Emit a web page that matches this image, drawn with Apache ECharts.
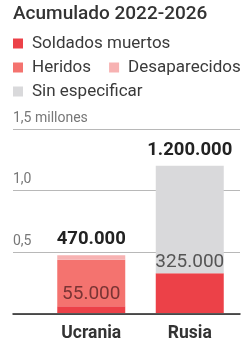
<!DOCTYPE html>
<html>
<head>
<meta charset="utf-8">
<script src="https://cdn.jsdelivr.net/npm/echarts@6/dist/echarts.min.js"></script>
<style>
  html, body { margin: 0; padding: 0; background: #fff; }
  #chart { width: 246px; height: 343px; }
</style>
</head>
<body>
<div id="chart"></div>
<script>
const categories = ['Ucrania', 'Rusia'];
const muertos = [55000, 325000];
const heridos = [380000, null];
const desaparecidos = [35000, null];
const sinEspecificar = [null, 875000];
const totales = [470000, 1200000];
const yTicks = [0, 500000, 1000000, 1500000];
const yTickLabels = ['', '0,5', '1,0', '1,5 millones'];

const font = 'Roboto';
const fmt = v => String(v).replace(/\B(?=(\d{3})+(?!\d))/g, '.');

const chart = echarts.init(document.getElementById('chart'));

const legendBase = {
    left: 13,
    width: 260,
    padding: 0,
    icon: 'rect',
    itemWidth: 10,
    itemHeight: 10,
    itemGap: 18,
    selectedMode: false,
    textStyle: {fontFamily: font, fontSize: 17, color: '#3a3a3a', padding: [0, 0, 0, 4]}
};

// etiquetas propias para cada barra de muertos
const muertosData = muertos.map((v, i) => ({
    value: v,
    label: i === 0
        ? {color: '#7a3434', distance: 3}
        : {color: '#555', distance: 1}
}));

chart.setOption({
    animation: false,
    title: {
        text: 'Acumulado 2022-2026',
        left: 13,
        top: 5,
        padding: 0,
        textStyle: {fontFamily: font, fontSize: 19, fontWeight: 500, color: '#333'}
    },
    legend: [
        Object.assign({}, legendBase, {top: 35, data: ['Soldados muertos']}),
        Object.assign({}, legendBase, {top: 59, data: ['Heridos', 'Desaparecidos']}),
        Object.assign({}, legendBase, {top: 83, data: ['Sin especificar']})
    ],
    grid: [
        {left: 13, right: 6, top: 129, bottom: 29},
        {left: 42, right: 7, top: 129, bottom: 29}
    ],
    xAxis: [
        {
            gridIndex: 0, type: 'category', data: [''], z: 10,
            axisLine: {lineStyle: {color: '#222', width: 1.5}},
            axisTick: {show: false}, axisLabel: {show: false}
        },
        {
            gridIndex: 1, type: 'category', data: categories,
            axisLine: {show: false}, axisTick: {show: false},
            axisLabel: {margin: 12, fontFamily: font, fontSize: 17.5, fontWeight: 'bold', color: '#333'}
        }
    ],
    yAxis: [
        {
            gridIndex: 0, type: 'value', min: 0, max: 1500000, interval: 500000,
            axisLine: {show: false}, axisTick: {show: false},
            splitLine: {lineStyle: {color: '#b8b8b8', width: 1}},
            axisLabel: {
                inside: true, margin: 0, verticalAlign: 'bottom', padding: [0, 0, 4, 0],
                fontFamily: font, fontSize: 14, color: '#777',
                formatter: v => yTickLabels[yTicks.indexOf(v)] || ''
            }
        },
        {gridIndex: 1, type: 'value', min: 0, max: 1500000, show: false}
    ],
    series: [
        {
            name: 'Soldados muertos', type: 'bar', stack: 'bajas', xAxisIndex: 1, yAxisIndex: 1,
            barWidth: 68, itemStyle: {color: '#ec4148'},
            label: {
                show: true, position: 'top', fontFamily: font, fontSize: 19,
                formatter: p => fmt(p.value)
            },
            data: muertosData
        },
        {
            name: 'Heridos', type: 'bar', stack: 'bajas', xAxisIndex: 1, yAxisIndex: 1,
            barWidth: 68, itemStyle: {color: '#f4736f'}, data: heridos
        },
        {
            name: 'Desaparecidos', type: 'bar', stack: 'bajas', xAxisIndex: 1, yAxisIndex: 1,
            barWidth: 68, itemStyle: {color: '#f7b2b2'}, data: desaparecidos
        },
        {
            name: 'Sin especificar', type: 'bar', stack: 'bajas', xAxisIndex: 1, yAxisIndex: 1,
            barWidth: 68, itemStyle: {color: '#d9d9db'}, data: sinEspecificar
        },
        {
            // serie vacía solo para poner el total encima
            name: 'Total', type: 'bar', stack: 'bajas', xAxisIndex: 1, yAxisIndex: 1,
            barWidth: 68, itemStyle: {color: 'transparent'},
            label: {
                show: true, position: 'top', distance: 6,
                fontFamily: font, fontSize: 18.5, fontWeight: 'bold', color: '#222',
                formatter: p => fmt(totales[p.dataIndex])
            },
            data: categories.map(() => 0)
        }
    ]
});
</script>
</body>
</html>
